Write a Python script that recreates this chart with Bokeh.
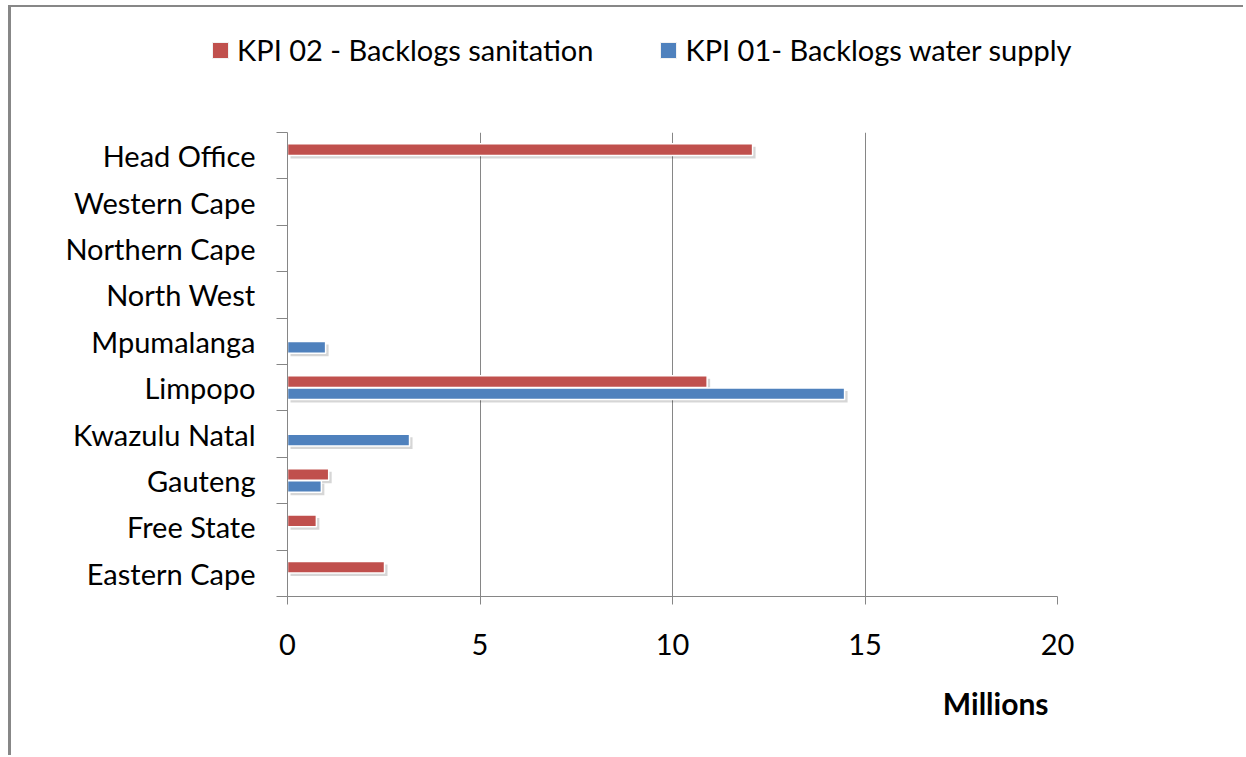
from bokeh.plotting import figure
from bokeh.models import (Range1d, FixedTicker, CustomJSTickFormatter, Legend,
                          LegendItem, Title, ColumnDataSource)
from bokeh.embed import file_html
from bokeh.resources import INLINE

categories = ["Eastern Cape", "Free State", "Gauteng", "Kwazulu Natal", "Limpopo",
              "Mpumalanga", "North West", "Northern Cape", "Western Cape", "Head Office"]
sanitation = [2.52, 0.75, 1.07, 0, 10.9, 0, 0, 0, 0, 12.08]
water = [0, 0, 0.88, 3.17, 14.47, 0.99, 0, 0, 0, 0]
x_ticks = [0, 5, 10, 15, 20]
series_names = ["KPI 02 - Backlogs sanitation", "KPI 01- Backlogs water supply"]
series_colors = ["#C0504D", "#4F81BD"]

FONT = "Lato"
GRAY = "#868686"

n = len(categories)
centers = [i + 0.5 for i in range(n)]
bounds = [float(i) for i in range(n + 1)]

bar_h = 0.25
off = 0.13
dx = 3 / 38.5
dy = 3 / 46.4

sources = []
shadows = []
for vals, sign in [(sanitation, 1), (water, -1)]:
    ys = [c + sign * off for c, v in zip(centers, vals) if v > 0]
    xs = [v for v in vals if v > 0]
    sources.append(ColumnDataSource(dict(y=ys, right=xs)))
    shadows.append(ColumnDataSource(dict(y=[y - dy for y in ys], left=[dx] * len(xs),
                                         right=[x + dx for x in xs])))

# ---------- main chart ----------
p = figure(width=1235, height=750, x_range=Range1d(0, 20), y_range=Range1d(0, n),
           output_backend="svg", toolbar_location=None,
           min_border_left=276, min_border_right=189, min_border_top=125,
           min_border_bottom=161)
p.styles = {"margin-left": "8px", "margin-top": "5px",
            "border-left": "3px solid #878787", "border-top": "2px solid #878787"}
p.outline_line_color = None
p.background_fill_color = "white"
p.border_fill_color = "white"

for src, sh, color in zip(sources, shadows, series_colors):
    p.hbar(y="y", left="left", right="right", height=bar_h, source=sh,
           fill_color="black", fill_alpha=0.16, line_color=None)
    p.hbar(y="y", left=0, right="right", height=bar_h, source=src,
           fill_color=color, line_color="white", line_width=1.5)

# grid
p.xgrid.ticker = FixedTicker(ticks=x_ticks)
p.xgrid.grid_line_color = GRAY
p.ygrid.visible = False

# x axis
xa = p.xaxis[0]
xa.ticker = FixedTicker(ticks=x_ticks)
xa.axis_line_color = GRAY
xa.major_tick_line_color = GRAY
xa.major_tick_out = 8
xa.major_tick_in = 0
xa.minor_tick_out = 0
xa.major_label_standoff = 29
xa.major_label_text_font = FONT
xa.major_label_text_font_size = "29px"
xa.major_label_text_color = "#000000"

# y axis
ya = p.yaxis[0]
ya.ticker = FixedTicker(ticks=centers, minor_ticks=bounds)
ya.formatter = CustomJSTickFormatter(args=dict(labels=categories),
                                     code="return labels[Math.round(tick - 0.5)];")
ya.axis_line_color = GRAY
ya.major_tick_out = 0
ya.major_tick_in = 0
ya.minor_tick_out = 11
ya.minor_tick_in = 0
ya.minor_tick_line_color = GRAY
ya.major_label_standoff = 21
ya.major_label_text_font = FONT
ya.major_label_text_font_size = "29px"
ya.major_label_text_color = "#000000"

# Millions label
t = Title(text="Millions", align="right", text_font=FONT, text_font_size="30px",
          text_font_style="bold", text_color="#000000", offset=9, standoff=50)
p.add_layout(t, "below")

# ---------- legend strip (overlaid at the top) ----------
leg = figure(width=1235, height=100, x_range=Range1d(-2, -1), y_range=Range1d(0, n),
             output_backend="svg", toolbar_location=None,
             x_axis_location=None, y_axis_location=None,
             min_border_left=0, min_border_right=0, min_border_top=0, min_border_bottom=0)
leg.styles = {"position": "absolute", "left": "11px", "top": "7px"}
leg.outline_line_color = None
leg.background_fill_alpha = 0
leg.border_fill_alpha = 0
leg.xgrid.visible = False
leg.ygrid.visible = False
leg_renderers = []
for src, color in zip(sources, series_colors):
    leg_renderers.append(leg.hbar(y="y", left=0, right="right", height=bar_h, source=src,
                                  fill_color=color, line_color="#f2f2f2", line_width=1))
legend = Legend(items=[LegendItem(label=series_names[0], renderers=[leg_renderers[0]]),
                       LegendItem(label=series_names[1], renderers=[leg_renderers[1]])],
                orientation="horizontal", location=(199, 40),
                glyph_width=20, glyph_height=20, label_standoff=7, spacing=65,
                padding=0, margin=0, border_line_color=None,
                background_fill_alpha=0, label_text_font=FONT,
                label_text_font_size="29px", label_text_color="#000000")
leg.add_layout(legend, "center")

open("out.html", "w").write(file_html([p, leg], INLINE))
